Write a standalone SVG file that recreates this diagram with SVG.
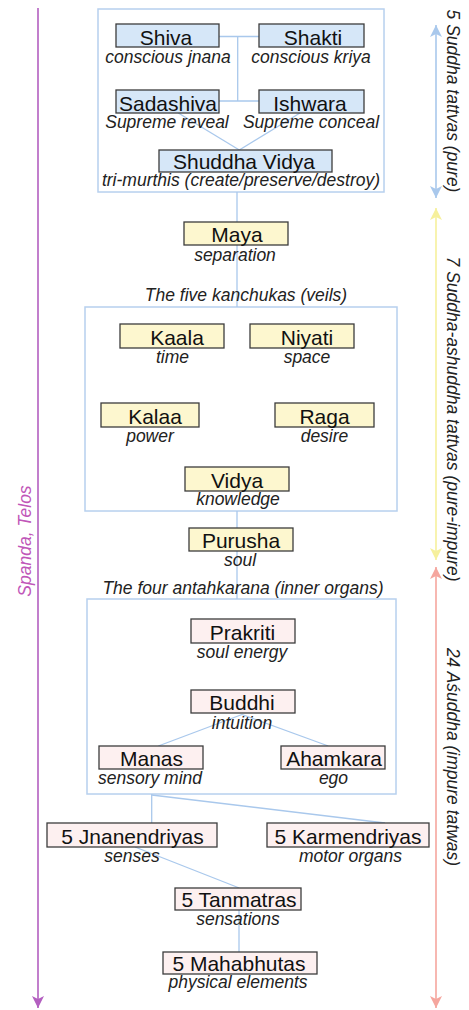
<svg xmlns="http://www.w3.org/2000/svg" width="469" height="1010" viewBox="0 0 469 1010">
<defs>
<style>
.grp{fill:#ffffff;stroke:#b7d0ee;stroke-width:1.5}
.bx{stroke:#3c3c3c;stroke-width:1.3}
.blue{fill:#d6e7f8}
.yel{fill:#fdf7cf}
.pink{fill:#fdf0f0}
.t{font-family:"Liberation Sans",Arial,sans-serif;font-size:21px;fill:#111;text-anchor:middle}
.s{font-family:"Liberation Sans",Arial,sans-serif;font-size:17.5px;font-style:italic;fill:#222;text-anchor:middle}
.c{stroke:#a9c8ec;stroke-width:1.3;fill:none}
.side{font-family:"Liberation Sans",Arial,sans-serif;font-size:17.5px;font-style:italic;fill:#222;text-anchor:middle}
</style>
<marker id="mBlue" markerUnits="userSpaceOnUse" markerWidth="14" markerHeight="14" refX="12" refY="6" orient="auto-start-reverse"><path d="M0,0 L12,6 L0,12 L3,6 Z" fill="#a9c8ec"/></marker>
<marker id="mYel" markerUnits="userSpaceOnUse" markerWidth="14" markerHeight="14" refX="12" refY="6" orient="auto-start-reverse"><path d="M0,0 L12,6 L0,12 L3,6 Z" fill="#f6f09c"/></marker>
<marker id="mPink" markerUnits="userSpaceOnUse" markerWidth="14" markerHeight="14" refX="12" refY="6" orient="auto-start-reverse"><path d="M0,0 L12,6 L0,12 L3,6 Z" fill="#f5a69e"/></marker>
<marker id="mPurp" markerUnits="userSpaceOnUse" markerWidth="14" markerHeight="14" refX="12" refY="6" orient="auto"><path d="M0,0 L12,6 L0,12 L3,6 Z" fill="#b35fc0"/></marker>
</defs>
<rect width="469" height="1010" fill="#ffffff"/>

<g id="containers">
<rect class="grp" x="98" y="9" width="286" height="183"/>
<rect class="grp" x="85" y="307" width="312" height="204"/>
<rect class="grp" x="87" y="599" width="309" height="195"/>
</g>

<g id="connectors">
<line class="c" x1="219" y1="36.5" x2="259" y2="36.5"/>
<line class="c" x1="237.7" y1="36.5" x2="237.7" y2="101"/>
<line class="c" x1="219" y1="101" x2="259" y2="101"/>
<line class="c" x1="178.3" y1="113" x2="239.3" y2="150"/>
<line class="c" x1="300" y1="113" x2="239.3" y2="150"/>
<line class="c" x1="237" y1="192" x2="237" y2="307"/>
<line class="c" x1="237" y1="511" x2="237" y2="599"/>
<line class="c" x1="158.3" y1="746" x2="242" y2="714.5"/>
<line class="c" x1="328.3" y1="746" x2="242" y2="714.5"/>
<line class="c" x1="151.7" y1="794" x2="151.7" y2="823"/>
<line class="c" x1="151.7" y1="795" x2="385" y2="823"/>
<line class="c" x1="135" y1="847" x2="239.3" y2="888"/>
<line class="c" x1="239" y1="910" x2="239" y2="952"/>
</g>

<g id="shiva"><rect class="bx blue" x="116" y="24" width="103" height="23"/><text class="t" x="166" y="44.5">Shiva</text><text class="s" x="168" y="63">conscious jnana</text></g>
<g id="shakti"><rect class="bx blue" x="259" y="24" width="105" height="23"/><text class="t" x="313" y="44.5">Shakti</text><text class="s" x="311" y="63">conscious kriya</text></g>
<g id="sadashiva"><rect class="bx blue" x="116" y="90" width="103" height="23"/><text class="t" x="168" y="110.5">Sadashiva</text><text class="s" x="167" y="127.5">Supreme reveal</text></g>
<g id="ishwara"><rect class="bx blue" x="259" y="90" width="105" height="23"/><text class="t" x="310" y="110.5">Ishwara</text><text class="s" x="311" y="127.5">Supreme conceal</text></g>
<g id="shuddhavidya"><rect class="bx blue" x="159" y="150" width="173" height="22"/><text class="t" x="244" y="169">Shuddha Vidya</text><text class="s" x="241" y="186">tri-murthis (create/preserve/destroy)</text></g>

<g id="maya"><rect class="bx yel" x="184" y="222" width="104" height="23"/><text class="t" x="237" y="242">Maya</text><text class="s" x="235" y="260.5">separation</text></g>
<text class="s" x="246" y="301">The five kanchukas (veils)</text>
<g id="kaala"><rect class="bx yel" x="120" y="324" width="104" height="24"/><text class="t" x="177" y="345">Kaala</text><text class="s" x="172.5" y="363">time</text></g>
<g id="niyati"><rect class="bx yel" x="250" y="324" width="104" height="24"/><text class="t" x="307" y="345">Niyati</text><text class="s" x="307" y="363">space</text></g>
<g id="kalaa"><rect class="bx yel" x="101" y="403" width="98" height="24"/><text class="t" x="155" y="424">Kalaa</text><text class="s" x="150" y="442">power</text></g>
<g id="raga"><rect class="bx yel" x="275" y="403" width="99" height="24"/><text class="t" x="324.5" y="424">Raga</text><text class="s" x="324.5" y="442">desire</text></g>
<g id="vidya"><rect class="bx yel" x="185" y="467" width="104" height="24"/><text class="t" x="237" y="487.5">Vidya</text><text class="s" x="238" y="504.5">knowledge</text></g>
<g id="purusha"><rect class="bx yel" x="189" y="528" width="104" height="23"/><text class="t" x="241" y="548">Purusha</text><text class="s" x="240" y="566">soul</text></g>
<text class="s" x="243" y="594">The four antahkarana (inner organs)</text>

<g id="prakriti"><rect class="bx pink" x="191" y="619" width="104" height="24"/><text class="t" x="242.5" y="640">Prakriti</text><text class="s" x="242" y="657.5">soul energy</text></g>
<g id="buddhi"><rect class="bx pink" x="191" y="690" width="104" height="23"/><text class="t" x="242" y="710">Buddhi</text><text class="s" x="242" y="728.5">intuition</text></g>
<g id="manas"><rect class="bx pink" x="99" y="746" width="104" height="23"/><text class="t" x="151.5" y="766">Manas</text><text class="s" x="150" y="783.5">sensory mind</text></g>
<g id="ahamkara"><rect class="bx pink" x="281" y="746" width="104" height="23"/><text class="t" x="334" y="766">Ahamkara</text><text class="s" x="333.5" y="783.5">ego</text></g>
<g id="jnanendriyas"><rect class="bx pink" x="47" y="823" width="170" height="24"/><text class="t" x="132.5" y="844">5 Jnanendriyas</text><text class="s" x="132" y="862">senses</text></g>
<g id="karmendriyas"><rect class="bx pink" x="267" y="823" width="162" height="24"/><text class="t" x="348" y="844">5 Karmendriyas</text><text class="s" x="350.5" y="862">motor organs</text></g>
<g id="tanmatras"><rect class="bx pink" x="175" y="888" width="126" height="22"/><text class="t" x="239" y="907">5 Tanmatras</text><text class="s" x="238" y="924.5">sensations</text></g>
<g id="mahabhutas"><rect class="bx pink" x="163" y="952" width="154" height="22"/><text class="t" x="239" y="970.5">5 Mahabhutas</text><text class="s" x="238" y="987.5">physical elements</text></g>

<g id="side-arrows">
<line x1="38" y1="8" x2="38" y2="1008" stroke="#b35fc0" stroke-width="1.6" marker-end="url(#mPurp)"/>
<line x1="436" y1="25" x2="436" y2="198" stroke="#a9c8ec" stroke-width="1.6" marker-start="url(#mBlue)" marker-end="url(#mBlue)"/>
<line x1="436" y1="208" x2="436" y2="560" stroke="#f6f09c" stroke-width="1.6" marker-start="url(#mYel)" marker-end="url(#mYel)"/>
<line x1="436" y1="567" x2="436" y2="1008" stroke="#f5a69e" stroke-width="1.6" marker-start="url(#mPink)" marker-end="url(#mPink)"/>
</g>
<g id="side-labels">
<text class="side" transform="translate(447,101) rotate(90)">5 Suddha tattvas (pure)</text>
<text class="side" transform="translate(447,419) rotate(90)">7 Suddha-ashuddha tattvas (pure-impure)</text>
<text class="side" transform="translate(447,757) rotate(90)">24 Aśuddha (impure tatwas)</text>
<text class="side" transform="translate(31,541) rotate(-90)" style="fill:#c056b8">Spanda, Telos</text>
</g>
</svg>
